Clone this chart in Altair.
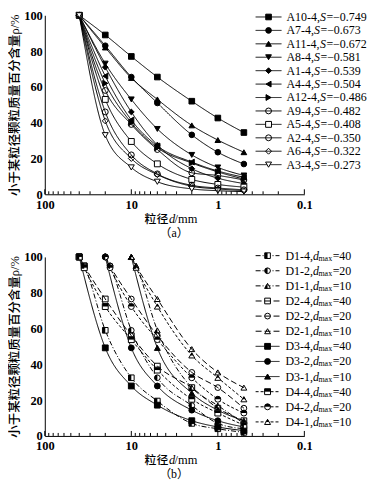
import altair as alt
import pandas as pd

FONT = "Liberation Serif, Noto Sans CJK SC"
CJK = "Noto Sans CJK SC"

# ---------------- panel (a) data ----------------
SIEVE = [40, 20, 10, 5, 2, 1, 0.5]
A_NAMES = ["A10-4", "A7-4", "A11-4", "A8-4", "A1-4", "A4-4",
           "A12-4", "A9-4", "A5-4", "A2-4", "A6-4", "A3-4"]
A_S = ["−0.749", "−0.673", "−0.672", "−0.581", "−0.539", "−0.504",
       "−0.486", "−0.482", "−0.408", "−0.350", "−0.322", "−0.273"]
A10 = [100, 89, 77, 65.5, 52, 42.6, 34.5]
A7 = [100, 83, 65.5, 51, 33.2, 23.5, 16.9]
A11 = [100, 82, 65, 53, 38.5, 30.3, 23.5]
A8 = [100, 73, 53, 36.5, 22, 15, 10.5]
A1 = [100, 71, 46, 27.5, 14.3, 9, 6]
A4 = [100, 66, 41.5, 27, 18, 13, 9.5]
A12 = [100, 62, 40, 26, 17.5, 12.5, 8.5]
A9 = [100, 58, 39, 25, 12, 10.5, 8]
A5 = [100, 53, 29.5, 17, 8.3, 5.5, 4]
A2 = [100, 46, 22, 11.4, 5, 3.5, 2.5]
A6 = [100, 41, 20, 11, 4.5, 3, 2]
A3 = [100, 33, 15, 7, 3, 2, 1.5]
A_VALUES = [A10, A7, A11, A8, A1, A4, A12, A9, A5, A2, A6, A3]

# ---------------- panel (b) data ----------------
B_NAMES = ["D1-4", "D1-2", "D1-1", "D2-4", "D2-2", "D2-1",
           "D3-4", "D3-2", "D3-1", "D4-4", "D4-2", "D4-1"]
B_DMAX = ["40", "20", "10"] * 4
D1_4_d = [40, 35, 20, 10, 5, 2, 1, 0.5]
D1_4 = [100, 95, 59, 32.5, 19.5, 7, 4, 2]
D1_2_d = [20, 17.6, 10, 5, 2, 1, 0.5]
D1_2 = [100, 95, 59, 32.5, 17, 7, 4]
D1_1_d = [10, 8.8, 5, 2, 1, 0.5]
D1_1 = [100, 95, 59, 27, 17, 7]
D2_4_d = [40, 35, 20, 10, 5, 2, 1, 0.5]
D2_4 = [100, 95, 76.5, 56, 39, 27, 15.5, 8.5]
D2_2_d = [20, 17.6, 10, 5, 2, 1, 0.5]
D2_2 = [100, 95, 76.5, 56, 35.5, 27, 15.5]
D2_1_d = [10, 8.8, 5, 2, 1, 0.5]
D2_1 = [100, 95, 76.5, 48.5, 35.5, 27]
D3_4_d = [40, 20, 10, 5, 2, 1, 0.5]
D3_4 = [100, 49.2, 27.9, 17.2, 8.5, 5, 3]
D3_2_d = [20, 10, 5, 2, 1, 0.5]
D3_2 = [100, 49.2, 27.9, 14.4, 8.5, 5]
D3_1_d = [10, 5, 2, 1, 0.5]
D3_1 = [100, 49.2, 23.9, 14.4, 8.5]
D4_4_d = [40, 35, 20, 10, 5, 2, 1, 0.5]
D4_4 = [100, 94, 72.3, 53.8, 36.8, 20.5, 12.8, 6]
D4_2_d = [20, 17.6, 10, 5, 2, 1, 0.5]
D4_2 = [100, 94, 72.3, 53.8, 32.5, 20.5, 12.8]
D4_1_d = [10, 8.8, 5, 2, 1, 0.5]
D4_1 = [100, 94, 72.3, 45, 32.5, 20.5]
B_D = [D1_4_d, D1_2_d, D1_1_d, D2_4_d, D2_2_d, D2_1_d,
       D3_4_d, D3_2_d, D3_1_d, D4_4_d, D4_2_d, D4_1_d]
B_VALUES = [D1_4, D1_2, D1_1, D2_4, D2_2, D2_1,
            D3_4, D3_2, D3_1, D4_4, D4_2, D4_1]

MAJOR = [100, 10, 1, 0.1]
MINOR = [m * 10 ** k for k in (1, 0, -1) for m in range(2, 10)]

# ---------------- styles ----------------
A_SHAPE = ["square", "circle", "triangle-up", "triangle-down", "diamond", "triangle-left",
           "triangle-right", "circle", "square", "circle", "diamond", "triangle-down"]
A_FILL = ["black"] * 7 + ["transparent", "white", "transparent", "transparent", "white"]
A_SIZE = [32, 36, 42, 42, 34, 42, 42, 26, 32, 36, 28, 42]
A_DASH = [[1, 0]] * 12

B_SHAPE = ["square", "circle", "triangle-up"] * 4
B_FILL = ["white"] * 3 + ["transparent"] * 3 + ["black"] * 3 + ["white"] * 3
B_SIZE = [32, 36, 42] * 4
B_DASH = [[5, 2, 1, 2]] * 3 + [[6, 3]] * 3 + [[1, 0]] * 3 + [[3, 2]] * 3

HALF_LEFT = {"square": "M-1,-1L0,-1L0,1L-1,1Z",
             "circle": "M0,-1A1,1,0,0,0,0,1Z",
             "triangle-up": "M0,-0.866L-1,0.866L0,0.866Z"}
HALF_TOP = {"square": "M-1,-1L1,-1L1,0L-1,0Z",
            "circle": "M-1,0A1,1,0,0,1,1,0Z",
            "triangle-up": "M0,-0.866L-0.5,0L0.5,0Z"}
B_HALF = {}
for i, n in enumerate(B_NAMES):
    if n.startswith("D1"):
        B_HALF[n] = HALF_LEFT[B_SHAPE[i]]
    elif n.startswith("D4"):
        B_HALF[n] = HALF_TOP[B_SHAPE[i]]

TWID = {**{c: 0.5 for c in "0123456789"}, "A": 0.722, "D": 0.722, "-": 0.333, ",": 0.25,
        ".": 0.25, "=": 0.564, "−": 0.564, "S": 0.5, "d": 0.5, "m": 0.778, "a": 0.444, "x": 0.5}


def tw(s, fs):
    return sum(TWID[c] for c in s) * fs


W = 261

# ---------------- tables ----------------
df_a = pd.DataFrame([dict(series=n, d=d, v=v) for n, vals in zip(A_NAMES, A_VALUES)
                     for d, v in zip(SIEVE, vals)])
df_b = pd.DataFrame([dict(series=n, d=d, v=v) for n, ds, vals in zip(B_NAMES, B_D, B_VALUES)
                     for d, v in zip(ds, vals)])

leg_a = []
for i, (n, s) in enumerate(zip(A_NAMES, A_S)):
    x1 = 243
    x2 = x1 + tw(n + ",", 12)
    x3 = x2 + tw("S", 12) + 0.5
    leg_a.append(dict(series=n, ly=1.7 + 13.5 * i, p1=n + ",", p2="S", p3="=" + s,
                      t1=x1, t2=x2, t3=x3))
leg_a = pd.DataFrame(leg_a)

leg_b = []
for i, (n, dm) in enumerate(zip(B_NAMES, B_DMAX)):
    x1 = 242
    x2 = x1 + tw(n + ",", 12)
    x3 = x2 + tw("d", 12) - 0.5
    x4 = x3 + tw("max", 8) + 0.5
    ly = -1.3 + 15.2 * i
    leg_b.append(dict(series=n, ly=ly, lys=ly + 3, p1=n + ",", p2="d", p3="max", p4="=" + dm,
                      t1=x1, t2=x2, t3=x3, t4=x4))
leg_b = pd.DataFrame(leg_b)


def panel(df, leg, names, shapes, fills, sizes, dashes, halves, H, caption, lx, kind):
    x = alt.X("d:Q", scale=alt.Scale(type="log", domain=[0.1, 100], reverse=True),
              axis=alt.Axis(values=MAJOR, format="~g", title=None, grid=False, ticks=False,
                            tickSize=0, labelPadding=4, labelFlush=False, labelFont=FONT,
                            labelFontSize=12.5, labelFontWeight="bold", labelColor="black",
                            domainColor="black", domainWidth=1))
    y = alt.Y("v:Q", scale=alt.Scale(domain=[0, 100]),
              axis=alt.Axis(values=[0, 20, 40, 60, 80, 100], grid=False, ticks=False, tickSize=0,
                            labelPadding=2.5, labelFont=FONT, labelFontSize=12.5,
                            labelFontWeight="bold",
                            labelColor="black", domainColor="black", domainWidth=1,
                            title="小于某粒径颗粒质量百分含量ρ/%", titleFont=FONT,
                            titleFontSize=12.5, titleFontWeight=500, titleColor="black",
                            titleAngle=270, titleX=-30, titleY=H / 2, titleAlign="center",
                            titleBaseline="middle"))
    dash = alt.StrokeDash("series:N", scale=alt.Scale(domain=names, range=dashes), legend=None)
    shape = alt.Shape("series:N", scale=alt.Scale(domain=names, range=shapes), legend=None)
    fill = alt.Fill("series:N", scale=alt.Scale(domain=names, range=fills), legend=None)
    size = alt.Size("series:O", scale=alt.Scale(domain=names, range=sizes), legend=None)
    ly = alt.Y("ly:Q", scale=None, axis=None)

    layers = []
    layers.append(alt.Chart(df).mark_line(interpolate="monotone", color="black", strokeWidth=1)
                  .encode(x=x, y=y, detail="series:N", strokeDash=dash))
    layers.append(alt.Chart(df).mark_point(filled=True, stroke="black", strokeWidth=1, opacity=1)
                  .encode(x=x, y=y, shape=shape, fill=fill, size=size))
    # ticks (inside)
    layers.append(alt.Chart(pd.DataFrame({"d": MAJOR})).mark_rule(color="black", strokeWidth=1)
                  .encode(x=x, y=alt.value(H), y2=alt.value(H - 5)))
    layers.append(alt.Chart(pd.DataFrame({"d": MINOR})).mark_rule(color="black", strokeWidth=1)
                  .encode(x=x, y=alt.value(H), y2=alt.value(H - 3)))
    # legend
    layers.append(alt.Chart(leg).mark_rule(color="black", strokeWidth=1)
                  .encode(x=alt.value(lx[0]), x2=alt.value(lx[1]), y=ly, strokeDash=dash))
    layers.append(alt.Chart(leg).mark_point(filled=True, stroke="black", strokeWidth=1, opacity=1)
                  .encode(x=alt.value(lx[2]), y=ly, shape=shape, fill=fill, size=size))
    # half-filled overlays
    for n, path in halves.items():
        s = sizes[names.index(n)]
        layers.append(alt.Chart(df).transform_filter(alt.datum.series == n)
                      .mark_point(shape=path, filled=True, fill="black", strokeWidth=0,
                                  size=s, opacity=1).encode(x=x, y=y))
        layers.append(alt.Chart(leg).transform_filter(alt.datum.series == n)
                      .mark_point(shape=path, filled=True, fill="black", strokeWidth=0,
                                  size=s, opacity=1).encode(x=alt.value(lx[2]), y=ly))
    # legend text
    tbase = dict(align="left", baseline="middle", font="Liberation Serif", fontSize=12,
                 color="black")
    layers.append(alt.Chart(leg).mark_text(**tbase)
                  .encode(x=alt.X("t1:Q", scale=None, axis=None), y=ly, text="p1:N"))
    layers.append(alt.Chart(leg).mark_text(fontStyle="italic", **tbase)
                  .encode(x=alt.X("t2:Q", scale=None, axis=None), y=ly, text="p2:N"))
    if kind == "a":
        layers.append(alt.Chart(leg).mark_text(**tbase)
                      .encode(x=alt.X("t3:Q", scale=None, axis=None), y=ly, text="p3:N"))
    else:
        layers.append(alt.Chart(leg).mark_text(align="left", baseline="middle",
                                               font="Liberation Serif", fontSize=8, color="black")
                      .encode(x=alt.X("t3:Q", scale=None, axis=None),
                              y=alt.Y("lys:Q", scale=None, axis=None), text="p3:N"))
        layers.append(alt.Chart(leg).mark_text(**tbase)
                      .encode(x=alt.X("t4:Q", scale=None, axis=None), y=ly, text="p4:N"))
    # x title and caption
    layers.append(alt.Chart(pd.DataFrame({"t": ["粒径"]}))
                  .mark_text(align="right", baseline="middle", font=CJK, fontSize=12,
                             fontWeight=500, color="black")
                  .encode(x=alt.value(124.3), y=alt.value(H + 24.5), text="t:N"))
    layers.append(alt.Chart(pd.DataFrame({"t": ["d"]}))
                  .mark_text(align="left", baseline="middle", font="Liberation Serif",
                             fontStyle="italic", fontSize=12.5, color="black")
                  .encode(x=alt.value(124.8), y=alt.value(H + 24.5), text="t:N"))
    layers.append(alt.Chart(pd.DataFrame({"t": ["/mm"]}))
                  .mark_text(align="left", baseline="middle", font="Liberation Serif",
                             fontSize=12.5, color="black")
                  .encode(x=alt.value(130.5), y=alt.value(H + 24.5), text="t:N"))
    layers.append(alt.Chart(pd.DataFrame({"t": [caption]}))
                  .mark_text(align="center", baseline="middle", font=FONT, fontSize=12,
                             color="black")
                  .encode(x=alt.value(130), y=alt.value(H + 38.5), text="t:N"))
    return alt.layer(*layers).properties(width=W, height=H)


pa = panel(df_a, leg_a, A_NAMES, A_SHAPE, A_FILL, A_SIZE, A_DASH, {}, 180, "（a）",
           (212, 238, 225), "a")
pb = panel(df_b, leg_b, B_NAMES, B_SHAPE, B_FILL, B_SIZE, B_DASH, B_HALF, 180, "（b）",
           (212, 236, 224), "b")

chart = (alt.vconcat(pa, pb, spacing=63, bounds="flush")
         .resolve_scale(shape="independent", fill="independent", size="independent",
                        strokeDash="independent")
         .properties(padding=0, background="white")
         .configure_view(stroke=None))

chart.save("out.html", embed_options={"renderer": "svg", "actions": False})
